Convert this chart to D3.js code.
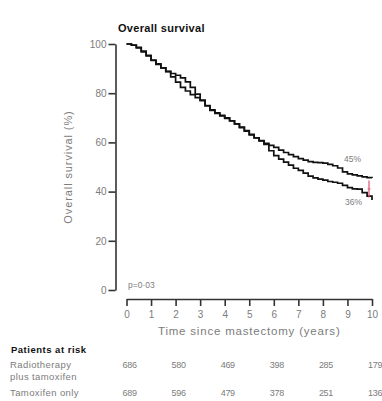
<!DOCTYPE html>
<html>
<head>
<meta charset="utf-8">
<script src="https://cdn.jsdelivr.net/npm/d3@7"></script>
<style>
  html, body { margin: 0; padding: 0; background: #fff; }
  svg text { font-family: "Liberation Sans", Arial, sans-serif; }
</style>
</head>
<body>
<div id="km-chart"></div>
<script>
/* ----------------------- Data ----------------------- */
const years = [0, 0.2, 0.4, 0.6, 0.8, 1, 1.2, 1.4, 1.6, 1.8, 2, 2.2, 2.4, 2.6, 2.8, 3,
    3.2, 3.4, 3.6, 3.8, 4, 4.2, 4.4, 4.6, 4.8, 5, 5.2, 5.4, 5.6, 5.8, 6, 6.2, 6.4, 6.6, 6.8, 7,
    7.2, 7.4, 7.6, 7.8, 8, 8.2, 8.4, 8.6, 8.8, 9, 9.2, 9.4, 9.6, 9.8, 10];
const radioTamSurvival = [100, 99.5, 98.4, 96.8, 95.2, 93.3, 91.7, 90.3, 88.8, 86.6, 84.5,
    82.4, 80.9, 79.4, 78.2, 77.0, 74.8, 73.0, 71.8, 70.8, 69.8, 68.8, 67.5, 66.0, 64.6, 63.0,
    61.8, 60.7, 59.6, 58.8, 58.0, 56.9, 55.9, 55.0, 54.2, 53.4, 52.8, 52.2, 51.9, 51.8, 51.6,
    51.1, 50.5, 49.6, 48.0, 47.2, 46.8, 46.4, 46.0, 45.7, 45.5];
const tamOnlySurvival = [100, 99.6, 98.6, 97.1, 95.4, 93.5, 91.9, 90.3, 88.9, 88.0, 87.3,
    86.2, 84.6, 82.4, 79.6, 77.2, 75.0, 73.2, 72.0, 71.0, 70.0, 68.7, 67.5, 66.2, 64.8, 63.3,
    61.9, 60.6, 59.2, 56.6, 54.6, 53.2, 52.0, 50.8, 49.5, 48.6, 47.5, 46.3, 45.6, 45.1, 44.7,
    44.1, 43.8, 43.4, 42.5, 41.6, 41.1, 41.0, 39.6, 38.2, 36.6];
const xTicks = [0, 1, 2, 3, 4, 5, 6, 7, 8, 9, 10];
const yTicks = [0, 20, 40, 60, 80, 100];
const riskYears = [0, 2, 4, 6, 8, 10];
const riskRadioTam = [686, 580, 469, 398, 285, 179];
const riskTamOnly = [689, 596, 479, 378, 251, 136];
const endLabels = ["45%", "36%"];

(function () {
    const W = 382, H = 401;
    const grey = "#7c7c7c";

    const svg = d3.select("#km-chart").append("svg")
        .attr("width", W).attr("height", H)
        .style("display", "block");

    /* ----------------------- Scales ----------------------- */
    const x = d3.scaleLinear().domain([0, 10]).range([126.5, 372]);
    const y = d3.scaleLinear().domain([0, 100]).range([290, 44]);

    /* ----------------------- Axes ----------------------- */
    const yAxis = svg.append("g")
        .attr("transform", "translate(115.5,0)")
        .call(d3.axisLeft(y).tickValues(yTicks).tickSize(7).tickSizeOuter(0).tickPadding(2));
    const xAxis = svg.append("g")
        .attr("transform", "translate(0,299)")
        .call(d3.axisBottom(x).tickValues(xTicks).tickSize(7).tickSizeOuter(0).tickPadding(5));

    [yAxis, xAxis].forEach(g => {
        g.select(".domain").attr("stroke", "#333").attr("stroke-width", 1.6);
        g.selectAll(".tick line").attr("stroke", "#333").attr("stroke-width", 1.6);
        g.selectAll(".tick text").attr("fill", grey).style("font-size", "10px");
    });

    /* ----------------------- Curves ----------------------- */
    const line = d3.line()
        .x(d => x(d[0]))
        .y(d => y(d[1]))
        .curve(d3.curveStepAfter);

    [radioTamSurvival, tamOnlySurvival].forEach(series => {
        svg.append("path")
            .datum(years.map((t, i) => [t, series[i]]))
            .attr("fill", "none")
            .attr("stroke", "#111")
            .attr("stroke-width", 1.7)
            .attr("d", line);
    });

    // difference marker at 10 years
    const last = years.length - 1;
    const yTop = y(radioTamSurvival[last] - 1), yBot = y(tamOnlySurvival[last] + 1);
    svg.append("line")
        .attr("x1", x(10) - 3).attr("x2", x(10) - 3)
        .attr("y1", yTop).attr("y2", yBot)
        .attr("stroke", "#e0506e").attr("stroke-width", 1.2);
    svg.append("line")
        .attr("x1", x(10) - 4.5).attr("x2", x(10) - 1.5)
        .attr("y1", (yTop + yBot) / 2).attr("y2", (yTop + yBot) / 2)
        .attr("stroke", "#e0506e").attr("stroke-width", 1);

    /* ----------------------- Labels ----------------------- */
    svg.append("text")
        .attr("x", x(10) - 28).attr("y", y(radioTamSurvival[last]) - 16)
        .attr("fill", grey).style("font-size", "8.5px")
        .text(endLabels[0]);
    svg.append("text")
        .attr("x", x(10) - 27).attr("y", y(tamOnlySurvival[last]) + 5)
        .attr("fill", grey).style("font-size", "8.5px")
        .text(endLabels[1]);

    svg.append("text")
        .attr("x", 118).attr("y", 32)
        .attr("fill", "#111").style("font-size", "11px").style("font-weight", "bold")
        .style("letter-spacing", "0.3px")
        .text("Overall survival");

    svg.append("text")
        .attr("transform", `translate(72,${(y(0) + y(100)) / 2}) rotate(-90)`)
        .attr("text-anchor", "middle")
        .attr("fill", grey).style("font-size", "11px").style("letter-spacing", "0.9px")
        .text("Overall survival (%)");

    svg.append("text")
        .attr("x", 128).attr("y", 288)
        .attr("fill", grey).style("font-size", "8.5px")
        .text("p=0·03");

    svg.append("text")
        .attr("x", (x(0) + x(10)) / 2).attr("y", 335)
        .attr("text-anchor", "middle")
        .attr("fill", grey).style("font-size", "11.5px").style("letter-spacing", "0.8px")
        .text("Time since mastectomy (years)");

    /* ----------------------- Patients at risk ----------------------- */
    svg.append("text")
        .attr("x", 11).attr("y", 353)
        .attr("fill", "#111").style("font-size", "9.5px").style("font-weight", "bold")
        .style("letter-spacing", "0.5px")
        .text("Patients at risk");

    const rowLabels = [["Radiotherapy", 368], ["plus tamoxifen", 380], ["Tamoxifen only", 396]];
    rowLabels.forEach(([t, yy]) => {
        svg.append("text")
            .attr("x", 10).attr("y", yy)
            .attr("fill", grey).style("font-size", "9.5px").style("letter-spacing", "0.4px")
            .text(t);
    });

    [[riskRadioTam, 368], [riskTamOnly, 396]].forEach(([vals, yy]) => {
        svg.selectAll(null)
            .data(vals)
            .enter().append("text")
            .attr("x", (d, i) => x(riskYears[i]) - 4)
            .attr("y", yy)
            .attr("fill", grey).style("font-size", "9px").style("letter-spacing", "-0.3px")
            .text(d => d);
    });
})();
</script>
</body>
</html>
